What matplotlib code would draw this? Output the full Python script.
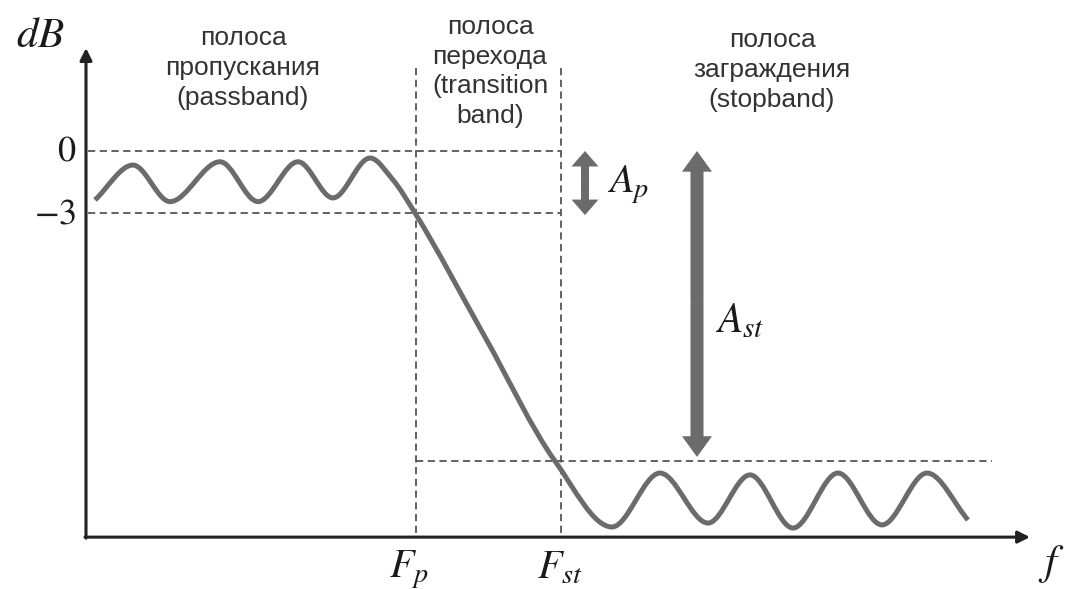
import numpy as np
import matplotlib
matplotlib.use("Agg")
import matplotlib.pyplot as plt
from matplotlib.path import Path
from matplotlib.patches import PathPatch

plt.rcParams['mathtext.fontset'] = 'stix'

# ---------------- data (schematic units: x arbitrary freq units, y in dB) -------------
curve_x = [0.09, 0.47, 0.84, 1.34, 1.72, 2.12, 2.47, 2.84, 3.07, 3.29, 3.99, 4.69,
           5.26, 5.74, 6.22, 6.64, 7.07, 7.52, 7.96, 8.41, 8.82]
curve_y = [-2.37, -0.68, -2.45, -0.52, -2.45, -0.52, -2.27, -0.34, -1.40, -3.0, -9.0,
           -15.0, -18.19, -15.58, -18.0, -15.67, -18.24, -15.58, -18.09, -15.58, -17.85]

level_values = [0, -3]
level_labels = [r'$0$', r'$-3$']
F_p, F_st = 3.30, 4.75
stop_level = -15.0
axis_bottom = -18.68
axis_top = 4.98
axis_right = 9.44
stop_line_end = 9.06
guide_top = 4.02

band_labels = ["полоса\nпропускания\n(passband)",
               "полоса\nперехода\n(transition\nband)",
               "полоса\nзаграждения\n(stopband)"]
band_label_x = [1.57, 4.04, 6.86]
band_label_y = [4.02, 3.85, 3.92]

ap_x, ast_x = 4.99, 6.11

# ---------------- figure -------------
fig = plt.figure(figsize=(10.70, 5.89), dpi=100)
ax = fig.add_axes([0, 0, 1, 1])
ax.set_xlim(-0.86, 9.84)
ax.set_ylim(-21.19, 7.305)
ax.axis('off')

dash_kw = dict(color='#555555', lw=1.3, dashes=(4, 2.5), zorder=2)
# horizontal guides at 0 and -3 dB
for lv in level_values:
    ax.plot([0.02, F_st], [lv, lv], **dash_kw)
# vertical guides
for fx in (F_p, F_st):
    ax.plot([fx, fx], [guide_top, axis_bottom], **dash_kw)
# stopband level
ax.plot([F_p, stop_line_end], [stop_level, stop_level], **dash_kw)

# ---------------- curve: smooth Hermite/Bezier through read points -------------
x = np.array(curve_x); y = np.array(curve_y)
h = np.diff(x); d = np.diff(y) / h
m = np.zeros_like(y)
for k in range(1, len(x) - 1):
    if d[k - 1] * d[k] <= 0:
        m[k] = 0.0
    else:
        w1 = 2 * h[k] + h[k - 1]; w2 = h[k] + 2 * h[k - 1]
        m[k] = (w1 + w2) / (w1 / d[k - 1] + w2 / d[k])
m[0] = d[0]; m[-1] = d[-1]
verts = [(x[0], y[0])]; codes = [Path.MOVETO]
for k in range(len(x) - 1):
    verts += [(x[k] + h[k] / 3, y[k] + m[k] * h[k] / 3),
              (x[k + 1] - h[k] / 3, y[k + 1] - m[k + 1] * h[k] / 3),
              (x[k + 1], y[k + 1])]
    codes += [Path.CURVE4] * 3
ax.add_patch(PathPatch(Path(verts, codes), fill=False, edgecolor='#6b6b6b',
                       lw=3.6, capstyle='butt', joinstyle='round', zorder=4))

# ---------------- axes with arrows -------------
axis_kw = dict(arrowstyle='-|>', lw=2.2, color='#222222', mutation_scale=18,
               shrinkA=0, shrinkB=0)
ax.annotate('', xy=(axis_right, axis_bottom), xytext=(-0.01, axis_bottom),
            arrowprops=axis_kw, zorder=5)
ax.annotate('', xy=(0, axis_top), xytext=(0, axis_bottom - 0.05),
            arrowprops=axis_kw, zorder=5)

# ---------------- double arrows A_p, A_st -------------
def double_arrow(xc, y0, y1, w, hw, hl):
    mid = (y0 + y1) / 2
    for end in (y0, y1):
        ax.arrow(xc, mid, 0, end - mid, width=w, head_width=hw, head_length=hl,
                 length_includes_head=True, color='#6b6b6b', lw=0, zorder=4)

double_arrow(ap_x, level_values[0], -3.1, 0.08, 0.27, 0.75)
double_arrow(ast_x, level_values[0], stop_level + 0.2, 0.13, 0.30, 1.0)

# ---------------- texts -------------
tc = '#1a1a1a'
ax.text(-0.46, 5.61, r'$dB$', fontsize=31, ha='center', va='center', color=tc)
for lv, lb in zip(level_values, level_labels):
    ax.text(-0.10, lv, lb, fontsize=26, ha='right', va='center', color=tc)
ax.text(F_p - 0.07, -19.2, r'$F_p$', fontsize=29, ha='center', va='top', color=tc)
ax.text(F_st - 0.01, -19.2, r'$F_{st}$', fontsize=29, ha='center', va='top', color=tc)
ax.text(9.65, -20.0, r'$f$', fontsize=31, ha='center', va='center', color=tc)
ax.text(5.42, -1.64, r'$A_p$', fontsize=29, ha='center', va='center', color=tc)
ax.text(6.54, -8.18, r'$A_{st}$', fontsize=30, ha='center', va='center', color=tc)

for lbl, lx, ly in zip(band_labels, band_label_x, band_label_y):
    ax.text(lx, ly, lbl, fontsize=19, family='Liberation Sans', color='#333333',
            ha='center', va='center', multialignment='center', linespacing=1.3)

fig.savefig('out.png', dpi=100, facecolor='white')
